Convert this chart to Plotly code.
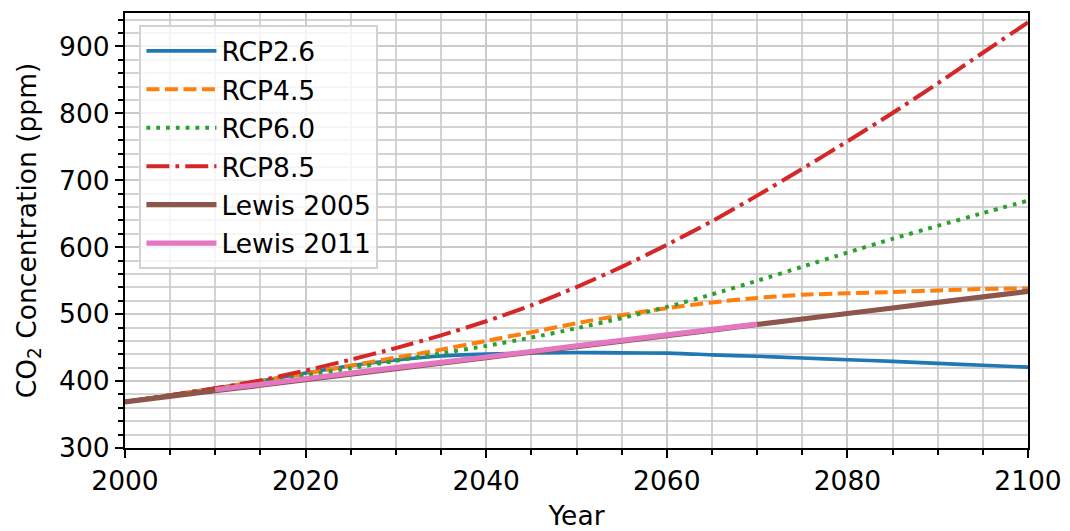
import plotly.graph_objects as go

years = [2000, 2005, 2010, 2015, 2020, 2025, 2030, 2035, 2040, 2045, 2050,
         2055, 2060, 2065, 2070, 2075, 2080, 2085, 2090, 2095, 2100]

rcp26 = [368.9, 378.8, 389.1, 399.9, 412.1, 422.8, 431.5, 437.5, 440.2, 442.0, 442.7,
         442.1, 441.7, 439.2, 437.0, 434.5, 431.9, 429.4, 426.4, 423.6, 420.9]
rcp45 = [368.9, 378.8, 389.1, 400.1, 411.1, 423.1, 435.0, 447.0, 460.0, 473.0, 486.5,
         498.5, 508.9, 517.5, 524.3, 529.0, 531.1, 533.1, 535.5, 537.5, 538.4]
rcp60 = [368.9, 378.8, 389.1, 398.9, 408.9, 419.3, 430.3, 441.4, 452.6, 465.0, 478.9,
         494.0, 510.8, 529.5, 549.8, 570.8, 592.0, 612.5, 632.0, 651.0, 669.7]
rcp85 = [368.9, 378.8, 389.3, 401.0, 415.8, 432.0, 449.3, 468.3, 489.4, 513.0, 540.5,
         570.6, 603.5, 638.9, 677.1, 717.1, 758.2, 800.6, 844.8, 890.6, 935.9]

lewis2005_years = [2000, 2010, 2020, 2030, 2040, 2050, 2060, 2070, 2080, 2090, 2100]
lewis2005 = [369.0, 385.5, 402.0, 418.5, 435.0, 451.5, 468.0, 484.5, 501.0, 517.5, 534.0]

lewis2011_years = [2010, 2020, 2030, 2040, 2050, 2060, 2070]
lewis2011 = [387.0, 403.5, 420.0, 436.0, 452.5, 469.0, 485.0]

x_ticks = [2000, 2020, 2040, 2060, 2080, 2100]
y_ticks = [300, 400, 500, 600, 700, 800, 900]

FONT = "DejaVu Sans"
FS = 26.5
GRID = "rgba(200,200,200,0.8)"
fig = go.Figure()

series = [
    ("RCP2.6", years, rcp26, "#1f77b4", "solid", 3.6),
    ("RCP4.5", years, rcp45, "#ff7f0e", "13px,5.5px", 4),
    ("RCP6.0", years, rcp60, "#2ca02c", "3.8px,6px", 4),
    ("RCP8.5", years, rcp85, "#d62728", "23px,6px,3.8px,6px", 4),
    ("Lewis 2005", lewis2005_years, lewis2005, "#8c564b", "solid", 5.2),
    ("Lewis 2011", lewis2011_years, lewis2011, "#e377c2", "solid", 5.2),
]
for i, (name, xs, ys, col, dash, w) in enumerate(series):
    fig.add_trace(go.Scatter(
        x=xs, y=ys, name=name, mode="lines", legendgroup=f"g{i}",
        line=dict(color=col, dash=dash, width=w, shape="spline", smoothing=0.6),
    ))

axis_common = dict(
    showline=True, linecolor="black", linewidth=2, mirror=True,
    ticks="outside", tickcolor="black", tickwidth=2, ticklen=8,
    showgrid=True, gridcolor=GRID, gridwidth=1.8,
    zeroline=False, automargin=False,
    tickfont=dict(family=FONT, size=FS, color="black"),
)

fig.update_xaxes(
    **axis_common, range=[2000, 2100], tickvals=x_ticks,
    ticktext=[str(v) for v in x_ticks],
    minor=dict(dtick=5, tick0=2000, ticks="outside", ticklen=5, tickwidth=1.6,
               tickcolor="black", showgrid=True, gridcolor=GRID, gridwidth=1.8),
    title=dict(text="Year", font=dict(family=FONT, size=FS, color="black")),
)
fig.update_yaxes(
    **axis_common, range=[300, 950], tickvals=y_ticks,
    ticktext=[str(v) for v in y_ticks],
    minor=dict(dtick=20, tick0=300, ticks="outside", ticklen=5, tickwidth=1.6,
               tickcolor="black", showgrid=True, gridcolor=GRID, gridwidth=1.8),
    title=dict(text="CO<sub>2</sub> Concentration (ppm)",
               font=dict(family=FONT, size=FS, color="black")),
)

fig.update_layout(
    width=1070, height=531,
    margin=dict(l=125, r=42, t=13, b=83),
    paper_bgcolor="white", plot_bgcolor="white",
    font=dict(family=FONT, size=FS, color="black"),
    showlegend=True,
    legend=dict(
        x=0.016, y=0.972, xanchor="left", yanchor="top",
        bgcolor="rgba(255,255,255,0.8)", bordercolor="rgba(210,210,210,1)",
        borderwidth=2, font=dict(family=FONT, size=FS, color="black"),
        tracegroupgap=1, itemwidth=70,
    ),
)

fig.write_html("out.html")
